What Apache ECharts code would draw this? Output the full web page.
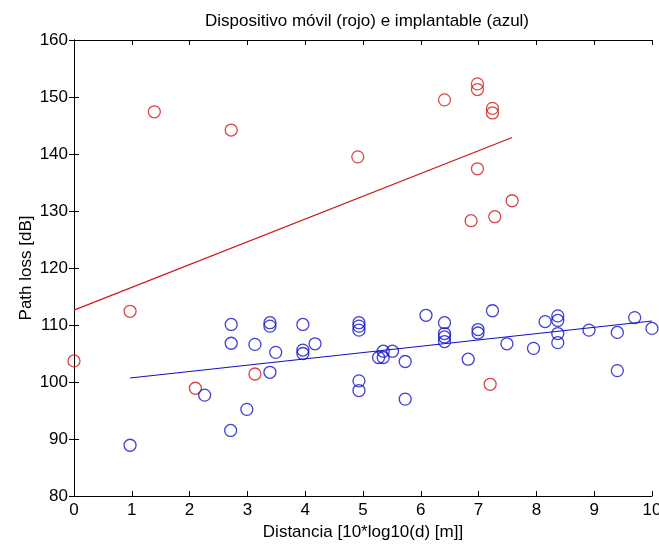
<!DOCTYPE html>
<html>
<head>
<meta charset="utf-8">
<script src="https://cdn.jsdelivr.net/npm/echarts@6/dist/echarts.min.js"></script>
<style>
  html, body { margin: 0; padding: 0; background: #fff; }
  #main { width: 659px; height: 545px; }
</style>
</head>
<body>
<div id="main"></div>
<script>
// datos: [distancia, path loss]
const movilPts = [
  [0, 103.7], [0.97, 112.4], [1.39, 147.4], [2.1, 98.9], [2.72, 144.2],
  [3.13, 101.4], [4.91, 139.5], [6.41, 149.5], [6.87, 128.3], [6.98, 152.3],
  [6.98, 151.3], [6.98, 137.4], [7.2, 99.6], [7.24, 148.0], [7.24, 147.2],
  [7.28, 129.0], [7.58, 131.8]
];
const implantPts = [
  [0.97, 88.9], [2.26, 97.7], [2.71, 91.5], [2.72, 110.1], [2.72, 106.8],
  [2.99, 95.2], [3.13, 106.6], [3.39, 110.4], [3.39, 109.8], [3.39, 101.7],
  [3.49, 105.2], [3.96, 110.1], [3.96, 105.6], [3.96, 105.0], [4.17, 106.7],
  [4.93, 110.4], [4.93, 109.8], [4.93, 109.1], [4.93, 100.2], [4.93, 98.5],
  [5.27, 104.3], [5.35, 104.3], [5.35, 105.4], [5.51, 105.4], [5.73, 103.6],
  [5.73, 97.0], [6.09, 111.7], [6.41, 110.4], [6.41, 108.5], [6.41, 107.9],
  [6.41, 107.1], [6.82, 104.0], [6.99, 109.2], [6.99, 108.6], [7.24, 112.5],
  [7.49, 106.7], [7.95, 105.9], [8.15, 110.6], [8.37, 111.6], [8.37, 110.8],
  [8.37, 108.5], [8.37, 106.9], [8.91, 109.1], [9.40, 108.7], [9.40, 102.0],
  [9.70, 111.3], [10.0, 109.4]
];
// rectas de ajuste (extremos)
const movilFit = [[0, 112.6], [7.58, 142.9]];
const implantFit = [[0.97, 100.7], [10, 110.7]];

const font = "'Liberation Sans', Arial, sans-serif";
const rojo = '#d01818';
const azul = '#1010c8';

let myChart = echarts.init(document.getElementById('main'));

const tickStyle = { show: true, inside: true, length: 5, lineStyle: { color: '#000' } };
const lineStyle = { show: true, lineStyle: { color: '#000', width: 1 } };

let option = {
  animation: false,
  backgroundColor: '#fff',
  textStyle: { fontFamily: font },
  title: {
    text: 'Dispositivo móvil (rojo) e implantable (azul)',
    left: 362, top: 8, textAlign: 'center',
    textStyle: { fontFamily: font, fontSize: 17, fontWeight: 'normal', color: '#000' }
  },
  grid: { left: 74, right: 7, top: 40, bottom: 49, outerBoundsMode: 'none' },
  xAxis: [{
    type: 'value', min: 0, max: 10, interval: 1,
    name: 'Distancia [10*log10(d) [m]]', nameLocation: 'middle', nameGap: 28,
    nameTextStyle: { fontFamily: font, fontSize: 17, color: '#000' },
    axisLine: lineStyle, axisTick: tickStyle, splitLine: { show: false },
    axisLabel: { fontFamily: font, fontSize: 17, color: '#000', margin: 6 }
  }, {
    type: 'value', min: 0, max: 10, interval: 1, position: 'top',
    axisLine: lineStyle, axisTick: tickStyle, splitLine: { show: false },
    axisLabel: { show: false }
  }],
  yAxis: [{
    type: 'value', min: 80, max: 160, interval: 10,
    name: 'Path loss [dB]', nameLocation: 'middle', nameGap: 39, nameMoveOverlap: false,
    nameTextStyle: { fontFamily: font, fontSize: 17, color: '#000' },
    axisLine: lineStyle, axisTick: tickStyle, splitLine: { show: false },
    axisLabel: { fontFamily: font, fontSize: 17, color: '#000', margin: 6 }
  }, {
    type: 'value', min: 80, max: 160, interval: 10, position: 'right',
    axisLine: lineStyle, axisTick: tickStyle, splitLine: { show: false },
    axisLabel: { show: false }
  }],
  series: [{
    type: 'scatter', data: movilPts, symbol: 'circle', symbolSize: 12,
    itemStyle: { color: 'none', borderColor: rojo, borderWidth: 1.3 }
  }, {
    type: 'scatter', data: implantPts, symbol: 'circle', symbolSize: 12,
    itemStyle: { color: 'none', borderColor: azul, borderWidth: 1.3 }
  }, {
    type: 'line', data: movilFit, symbol: 'none',
    lineStyle: { color: rojo, width: 1.2 }
  }, {
    type: 'line', data: implantFit, symbol: 'none',
    lineStyle: { color: azul, width: 1.2 }
  }]
};
myChart.setOption(option);
</script>
</body>
</html>
